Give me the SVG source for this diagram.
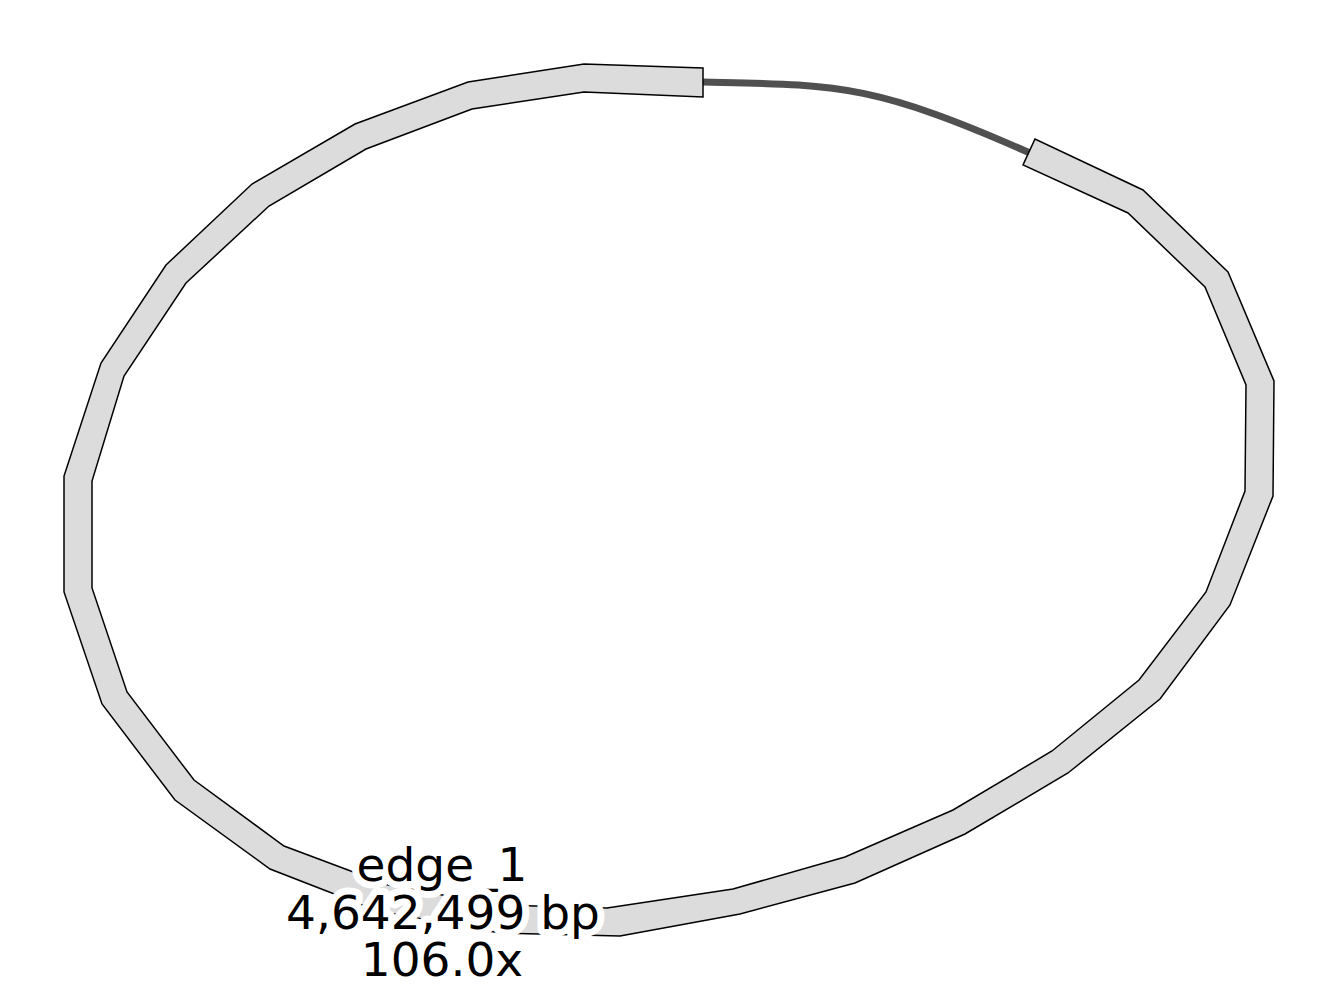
<svg xmlns="http://www.w3.org/2000/svg" width="1338" height="1000" viewBox="0 0 1338 1000">
<style>
.node{fill:#dcdcdc;stroke:#000;stroke-width:1.5;stroke-linejoin:miter}
.edge{fill:none;stroke:#505050;stroke-width:7}
.lbl{font-family:"DejaVu Sans",sans-serif;font-size:47px;fill:#000;stroke:#fff;stroke-width:14;stroke-linejoin:round;paint-order:stroke;text-anchor:middle}
</style>
<rect width="1338" height="1000" fill="#fff"/>
<g id="connectors">
<path class="edge" d="M703,82 C835,85 870,82 1030,153"/>
</g>
<g id="edge_1">
<polygon class="node" points="703,68 584,64 468,82 355,124 252,184 166,265 101,363 64,476 64,592 102,704 175,800 270,869 378,911 500,933 620,936 740,914 855,883 965,834 1068,773 1160,699 1230,605 1273,496 1274,381 1228,272 1143,190 1035,139 1023,165 1128,213 1205,287 1246,385 1245,491 1206,592 1139,680 1052,751 953,810 845,857 733,889 607,908 497,905 388,885 284,846 194,780 127,692 92,588 92,481 124,376 186,283 269,206 366,149 472,109 584,92 703,97"/>
<text class="lbl"><tspan x="442" y="881">edge_1</tspan><tspan x="443" y="929">4,642,499 bp</tspan><tspan x="442" y="976">106.0x</tspan></text>
</g>
</svg>
